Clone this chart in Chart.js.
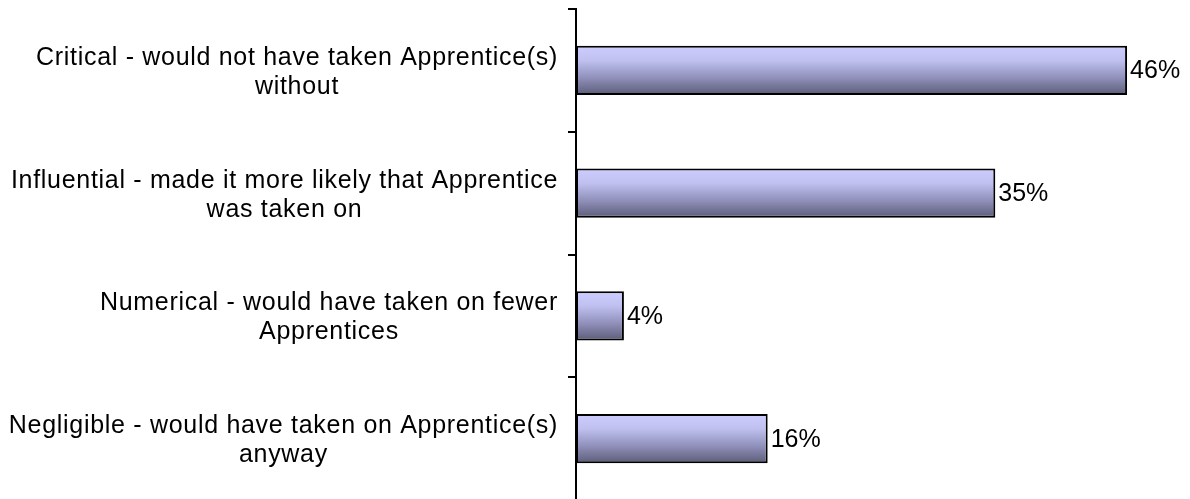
<!DOCTYPE html>
<html>
<head>
<meta charset="utf-8">
<script src="https://cdn.jsdelivr.net/npm/chart.js@4"></script>
<style>
  html, body { margin: 0; padding: 0; background: #fff; overflow: hidden; }
  #wrap { width: 1190px; height: 499px; position: relative; overflow: hidden; }
</style>
</head>
<body>
<div id="wrap"><canvas id="c" width="1190" height="510"></canvas></div>
<script>
const categories = [
  ["Critical - would not have taken Apprentice(s)", "without"],
  ["Influential - made it more likely that Apprentice", "was taken on"],
  ["Numerical - would have taken on fewer", "Apprentices"],
  ["Negligible - would have taken on Apprentice(s)", "anyway"]
];
const values = [46, 35, 4, 16];
const valueLabels = ["46%", "35%", "4%", "16%"];

const FONT = '25px "Liberation Sans", Arial, sans-serif';

const categoryLabelPlugin = {
  id: 'categoryLabels',
  afterDraw(chart) {
    const ctx = chart.ctx;
    const y = chart.scales.y;
    const rightEdge = chart.chartArea.left - 18;
    const lineH = 29;
    ctx.save();
    ctx.font = FONT;
    if ('letterSpacing' in ctx) ctx.letterSpacing = '0.7px';
    ctx.fillStyle = '#000';
    ctx.textAlign = 'center';
    ctx.textBaseline = 'middle';
    categories.forEach((lines, i) => {
      const cy = y.getPixelForValue(i) + 2;
      const maxW = Math.max(...lines.map(l => ctx.measureText(l).width));
      const cx = rightEdge - maxW / 2;
      const startY = cy - (lines.length - 1) * lineH / 2;
      lines.forEach((l, k) => ctx.fillText(l, cx, startY + k * lineH));
    });
    ctx.restore();
  }
};

const valueLabelPlugin = {
  id: 'valueLabels',
  afterDatasetsDraw(chart) {
    const ctx = chart.ctx;
    const meta = chart.getDatasetMeta(0);
    ctx.save();
    ctx.font = FONT;
    ctx.fillStyle = '#000';
    ctx.textAlign = 'left';
    ctx.textBaseline = 'middle';
    meta.data.forEach((el, i) => {
      ctx.fillText(valueLabels[i], el.x + 3, el.y + 1);
    });
    ctx.restore();
  }
};

function barGradient(context) {
  const chart = context.chart;
  const area = chart.chartArea;
  const ys = chart.scales.y;
  if (!area || !ys || context.dataIndex === undefined) return '#a8a8d8';
  const band = (area.bottom - area.top) / categories.length;
  const cy = ys.getPixelForValue(context.dataIndex);
  const half = band * 0.2;
  const g = chart.ctx.createLinearGradient(0, cy - half, 0, cy + half);
  g.addColorStop(0, '#ccccff');
  g.addColorStop(0.3, '#c0c0f0');
  g.addColorStop(0.65, '#9090bb');
  g.addColorStop(1, '#5c5c78');
  return g;
}

new Chart(document.getElementById('c'), {
  type: 'bar',
  data: {
    labels: categories,
    datasets: [{
      data: values,
      backgroundColor: barGradient,
      borderColor: '#000',
      borderWidth: 2,
      borderSkipped: false,
      categoryPercentage: 0.4,
      barPercentage: 1.0
    }]
  },
  options: {
    indexAxis: 'y',
    responsive: false,
    animation: false,
    layout: { padding: { top: 9, bottom: 10, right: 15, left: 0 } },
    plugins: { legend: { display: false }, tooltip: { enabled: false } },
    scales: {
      x: {
        display: false,
        min: 0,
        max: 50
      },
      y: {
        offset: true,
        ticks: { display: false },
        grid: {
          offset: true,
          drawOnChartArea: false,
          drawTicks: true,
          tickLength: 8,
          color: '#000',
          lineWidth: 2
        },
        border: { display: true, color: '#000', width: 2 },
        afterFit(scale) { scale.width = 576; }
      }
    }
  },
  plugins: [categoryLabelPlugin, valueLabelPlugin]
});
</script>
</body>
</html>
